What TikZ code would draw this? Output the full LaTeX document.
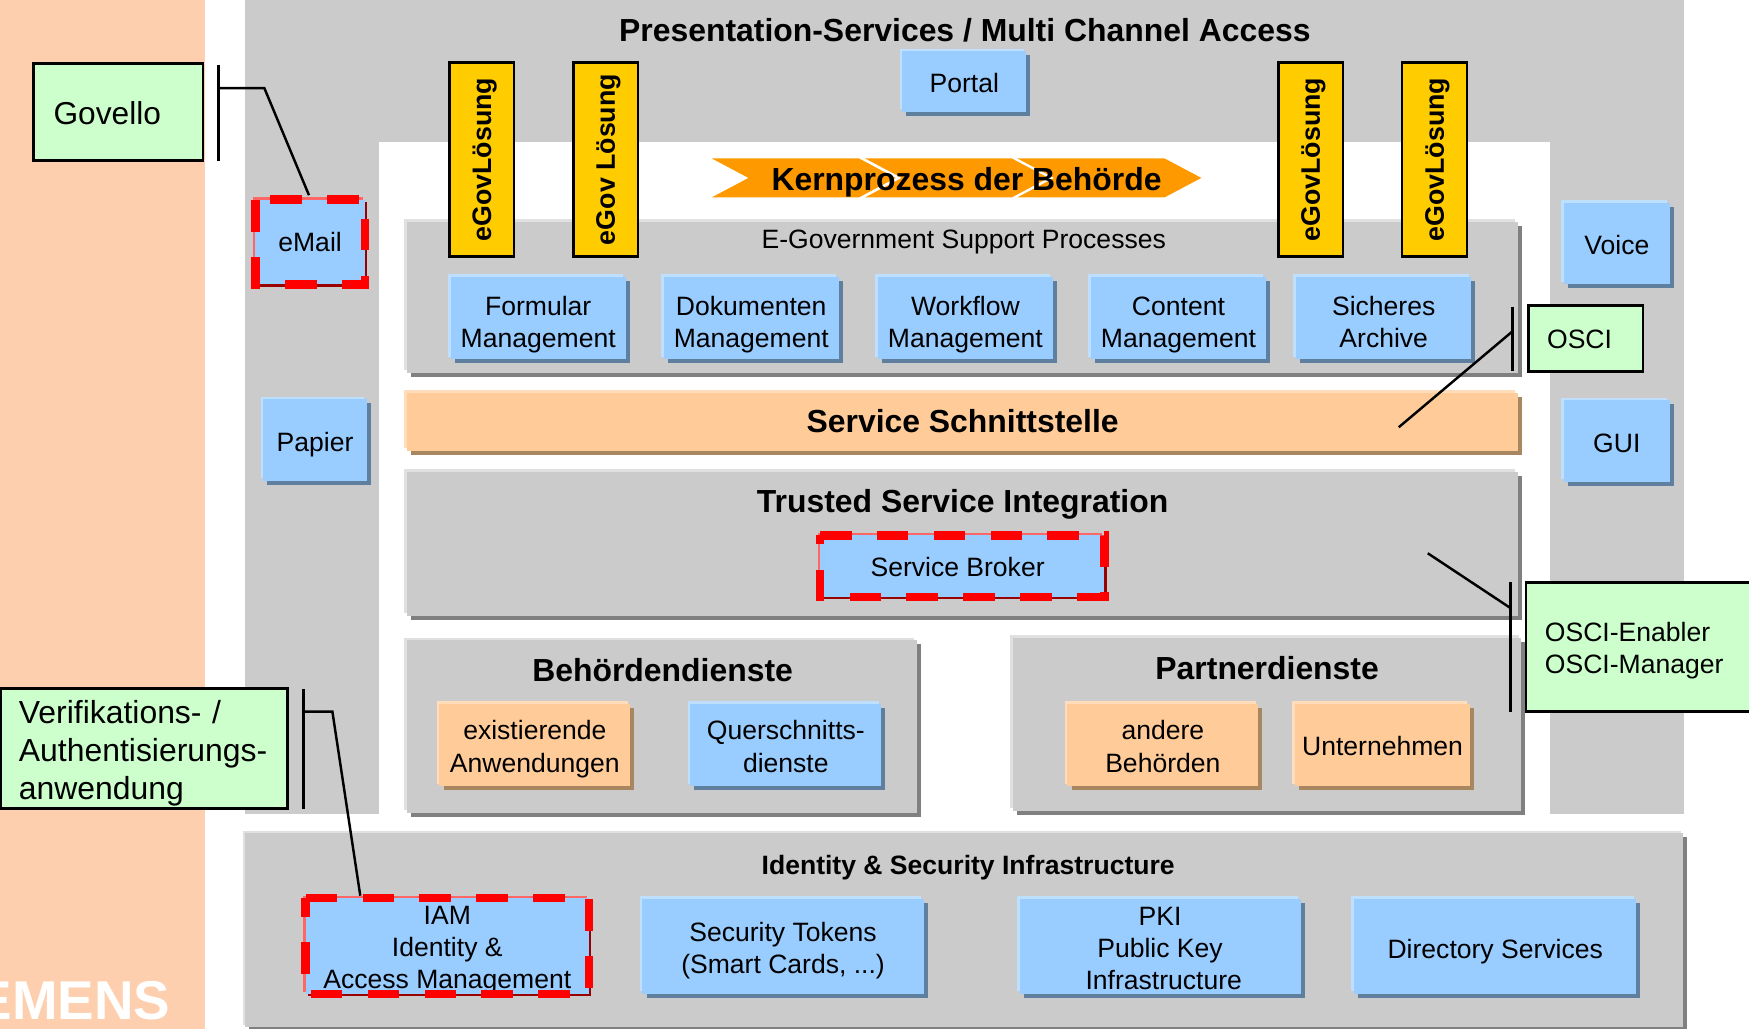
\documentclass[tikz,border=0pt]{standalone}
\usepackage{fontspec}
\setmainfont{Liberation Sans}
\usetikzlibrary{shadows}
\definecolor{cpeachbg}{HTML}{FDCFAE}
\definecolor{cgray}{HTML}{CBCBCB}
\definecolor{cgrayd}{HTML}{808080}
\definecolor{cgrayl}{HTML}{E0E0E0}
\definecolor{cblue}{HTML}{99CCFF}
\definecolor{cblued}{HTML}{5F7F9F}
\definecolor{cbluel}{HTML}{BFDFFF}
\definecolor{cpeach}{HTML}{FFCC99}
\definecolor{cpeachd}{HTML}{A88660}
\definecolor{cpeachl}{HTML}{FFDDBB}
\definecolor{cgreen}{HTML}{CCFFCC}
\definecolor{cyellow}{HTML}{FFCC00}
\definecolor{corange}{HTML}{FF9900}
\definecolor{credl}{HTML}{FF6666}
\definecolor{credd}{HTML}{990000}
\newcommand{\dn}[2][5.5pt]{\raisebox{-#1}[0pt][0pt]{#2}}
\tikzset{
  txt/.style={font=\fontsize{11.9}{14.4}\selectfont,text=black},
  bigb/.style={font=\fontsize{14.3}{17}\selectfont\bfseries,text=black},
  midb/.style={font=\fontsize{11.9}{14.5}\selectfont\bfseries,text=black},
  base/.style={inner sep=0pt,outer sep=0pt,align=center,txt,
     execute at begin node={\rule{0pt}{10.7pt}},
     execute at end node={\rule[-1.2pt]{0pt}{1.2pt}}},
  bev/.style n args={3}{base,fill=#1,
     general shadow={fill=#2,shadow xshift=1.8pt,shadow yshift=-1.8pt},
     general shadow={fill=#3,shadow xshift=-1.2pt,shadow yshift=1.2pt}},
  bluebox/.style={bev={cblue}{cblued}{cbluel}},
  graybox/.style={bev={cgray}{cgrayd}{cgrayl}},
  peachbox/.style={bev={cpeach}{cpeachd}{cpeachl}},
  redbox/.style={base,fill=cblue,
     general shadow={fill=credd,shadow xshift=1.1pt,shadow yshift=-1.1pt},
     general shadow={fill=credl,shadow xshift=-1pt,shadow yshift=1pt}},
  reddash/.style={draw=red,line width=3.8pt,dash pattern=on 14.2pt off 11.3pt},
  flat/.style={base,fill=#1},
  egov/.style={base,fill=cyellow,draw=black,line width=1.1pt},
  egovtxt/.style={rotate=90,font=\fontsize{12}{14}\selectfont\bfseries,text=black,inner sep=0pt},
  greenbox/.style={base,fill=cgreen,draw=black,line width=1.2pt,align=left},
  tee/.style={draw=black,line width=1.1pt},
  chev/.style={fill=corange,draw=none},
}
% optional style, name, x1, y1, x2, y2, text
\newcommand{\bx}[7][]{%
  \node[#1,minimum width={(#5-#3)*0.5pt},minimum height={(#6-#4)*0.5pt}] (#2) at ({(#3+#5)/2},{(#4+#6)/2}) {#7};}
% padding, name, x1, y1, x2, y2, size, text
\newcommand{\gbx}[8]{%
  \node[greenbox,inner xsep={#1*0.5pt},text width={(#5-#3-2*#1)*0.5pt},minimum height={(#6-#4)*0.5pt},#7] (#2) at ({(#3+#5)/2},{(#4+#6)/2}) {#8};}
\begin{document}
\begin{tikzpicture}[x=0.5pt,y=-0.5pt]
\useasboundingbox (0,0) rectangle (1568,922.5);
% backgrounds
\bx[flat=cpeachbg]{bgleft}{0}{0}{184}{923}{}
\bx[flat=cgray]{frametop}{220}{0}{1510}{127}{}
\bx[flat=cgray]{frameleft}{220}{0}{340}{730}{}
\bx[flat=cgray]{frameright}{1390}{0}{1510}{730}{}
\node[anchor=base east,inner sep=0pt,text=white,font=\fontsize{24.5}{28}\selectfont\bfseries] (logo) at (153,914) {EMENS};
\node[bigb,inner sep=0pt] (title) at (865,27) {Presentation-Services / Multi Channel Access};
% group boxes
\bx[graybox]{support}{365}{199}{1361}{334}{}
\bx[peachbox]{schnitt}{365}{352}{1361}{404}{\fontsize{14.3}{17}\selectfont\bfseries Service Schnittstelle}
\bx[graybox]{trusted}{365}{423}{1361}{552}{}
\bx[graybox]{behoerde}{365}{574}{822}{729}{}
\bx[graybox]{partner}{908}{572}{1364}{727}{}
\bx[graybox]{identity}{220}{747}{1509}{921}{}
\node[txt,inner sep=0pt] (supporttitle) at (864,217) {E-Government Support Processes};
\node[bigb,inner sep=0pt] (trustedtitle) at (863,452) {Trusted Service Integration};
\node[bigb,inner sep=0pt] (behoerdetitle) at (594,601) {Behördendienste};
\node[bigb,inner sep=0pt] (partnertitle) at (1136,599) {Partnerdienste};
\node[midb,inner sep=0pt] (identitytitle) at (868,778) {Identity \& Security Infrastructure};
% Kernprozess chevrons
\fill[chev] (638,142) -- (770,142) -- (803,159.5) -- (770,177) -- (638,177) -- (671,159.5) -- cycle;
\fill[chev] (775.5,142) -- (907,142) -- (940,159.5) -- (907,177) -- (775.5,177) -- (808.5,159.5) -- cycle;
\fill[chev] (912,142) -- (1044,142) -- (1077,159.5) -- (1044,177) -- (912,177) -- (945,159.5) -- cycle;
\node[bigb,inner sep=0pt] (kern) at (866.5,163) {Kernprozess der Behörde};
% eGov columns
\bx[egov]{egova}{403}{56}{461}{230}{}
\bx[egov]{egovb}{514}{56}{572}{230}{}
\bx[egov]{egovc}{1146}{56}{1204}{230}{}
\bx[egov]{egovd}{1257}{56}{1315}{230}{}
\node[egovtxt] (egovatxt) at (434.5,143) {eGovLösung};
\node[egovtxt] (egovbtxt) at (545.5,143) {eGov Lösung};
\node[egovtxt] (egovctxt) at (1177.5,143) {eGovLösung};
\node[egovtxt] (egovdtxt) at (1288.5,143) {eGovLösung};
% blue boxes
\bx[bluebox]{portal}{809}{46}{920}{100}{Portal}
\bx[redbox]{email}{229}{179}{327}{255}{\dn[-0.5pt]{eMail}}
\bx[bluebox]{papier}{236}{358}{329}{431}{\dn[0.5pt]{Papier}}
\bx[bluebox]{voice}{1402}{182}{1497}{255}{Voice}
\bx[bluebox]{gui}{1402}{359}{1497}{432}{\dn[0.5pt]{GUI}}
\bx[bluebox]{formular}{404}{248}{561}{322}{\dn[6.5pt]{Formular}\\\dn[6.5pt]{Management}}
\bx[bluebox]{dokumenten}{595}{248}{752}{322}{\dn[6.5pt]{Dokumenten}\\\dn[6.5pt]{Management}}
\bx[bluebox]{workflow}{787}{248}{944}{322}{\dn[6.5pt]{Workflow}\\\dn[6.5pt]{Management}}
\bx[bluebox]{content}{978}{248}{1135}{322}{\dn[6.5pt]{Content}\\\dn[6.5pt]{Management}}
\bx[bluebox]{archive}{1162}{248}{1319}{322}{\dn[6.5pt]{Sicheres}\\\dn[6.5pt]{Archive}}
\bx[redbox]{broker}{735}{480}{990}{535}{Service Broker\hspace*{4pt}}
\bx[peachbox]{existierende}{394}{631}{565}{705}{\dn{existierende}\\\dn{Anwendungen}}
\bx[bluebox]{querschnitt}{619}{631}{790}{705}{\dn{Querschnitts-}\\\dn{dienste}}
\bx[peachbox]{andere}{957}{631}{1128}{705}{\dn{andere}\\\dn{Behörden}}
\bx[peachbox]{unternehmen}{1161}{631}{1318}{705}{Unternehmen}
\bx[redbox]{iam}{274}{805}{528}{891}{\dn{IAM}\\\dn{Identity \&}\\\dn{Access Management}}
\bx[bluebox]{tokens}{576}{806}{828}{891}{\dn{Security Tokens}\\\dn{(Smart Cards, ...)}}
\bx[bluebox]{pki}{914}{806}{1166}{891}{\dn{PKI}\\\dn{Public Key}\\\dn{\ Infrastructure}}
\bx[bluebox]{directory}{1214}{806}{1467}{891}{\dn[0.5pt]{Directory Services}}
% red dashed outlines
\draw[reddash,dash phase=19pt] (email.north west) -- (email.north east) -- (email.south east) -- (email.south west) -- cycle;
\draw[reddash] (broker.north west) -- (broker.north east) -- (broker.south east) -- (broker.south west) -- cycle;
\draw[reddash] (iam.north west) -- (iam.north east) -- (iam.south east) -- (iam.south west) -- cycle;
% green annotation boxes
\gbx{18}{govello}{30}{57}{182}{144}{font=\fontsize{14.2}{17}\selectfont}{\dn[1pt]{Govello}}
\gbx{16}{verif}{1}{617}{258}{725}{font=\fontsize{14.3}{17.2}\selectfont}{\dn[1.1pt]{Verifikations- /}\\\dn[1.1pt]{Authentisierungs-}\\\dn[1.1pt]{anwendung}}
\gbx{17}{osci}{1370}{274}{1473}{333}{}{\dn[-0.3pt]{OSCI}}
\gbx{17}{enabler}{1368}{522}{1569}{638}{}{\dn[0pt]{OSCI-Enabler}\\\dn[0pt]{OSCI-Manager}}
% tee connectors
\coordinate (govt) at (196,58);
\coordinate (govb) at (196,144);
\coordinate (govm) at (196,79);
\coordinate (govk) at (237,79);
\coordinate (govend) at (277,175);
\draw[tee] (govt) -- (govb);
\draw[tee] (govm) -- (govk) -- (govend);
\coordinate (vert) at (272,618);
\coordinate (verb) at (272,725);
\coordinate (verm) at (272,638);
\coordinate (verk) at (298,638);
\coordinate (verend) at (323,803);
\draw[tee] (vert) -- (verb);
\draw[tee] (verm) -- (verk) -- (verend);
\coordinate (ost) at (1356,275);
\coordinate (osb) at (1356,333);
\coordinate (osm) at (1356,297);
\coordinate (osend) at (1254,383);
\draw[tee] (ost) -- (osb);
\draw[tee] (osm) -- (osend);
\coordinate (ent) at (1354,522);
\coordinate (enb) at (1354,638);
\coordinate (enm) at (1354,545);
\coordinate (enend) at (1280,496);
\draw[tee] (ent) -- (enb);
\draw[tee] (enm) -- (enend);
\end{tikzpicture}
\end{document}
